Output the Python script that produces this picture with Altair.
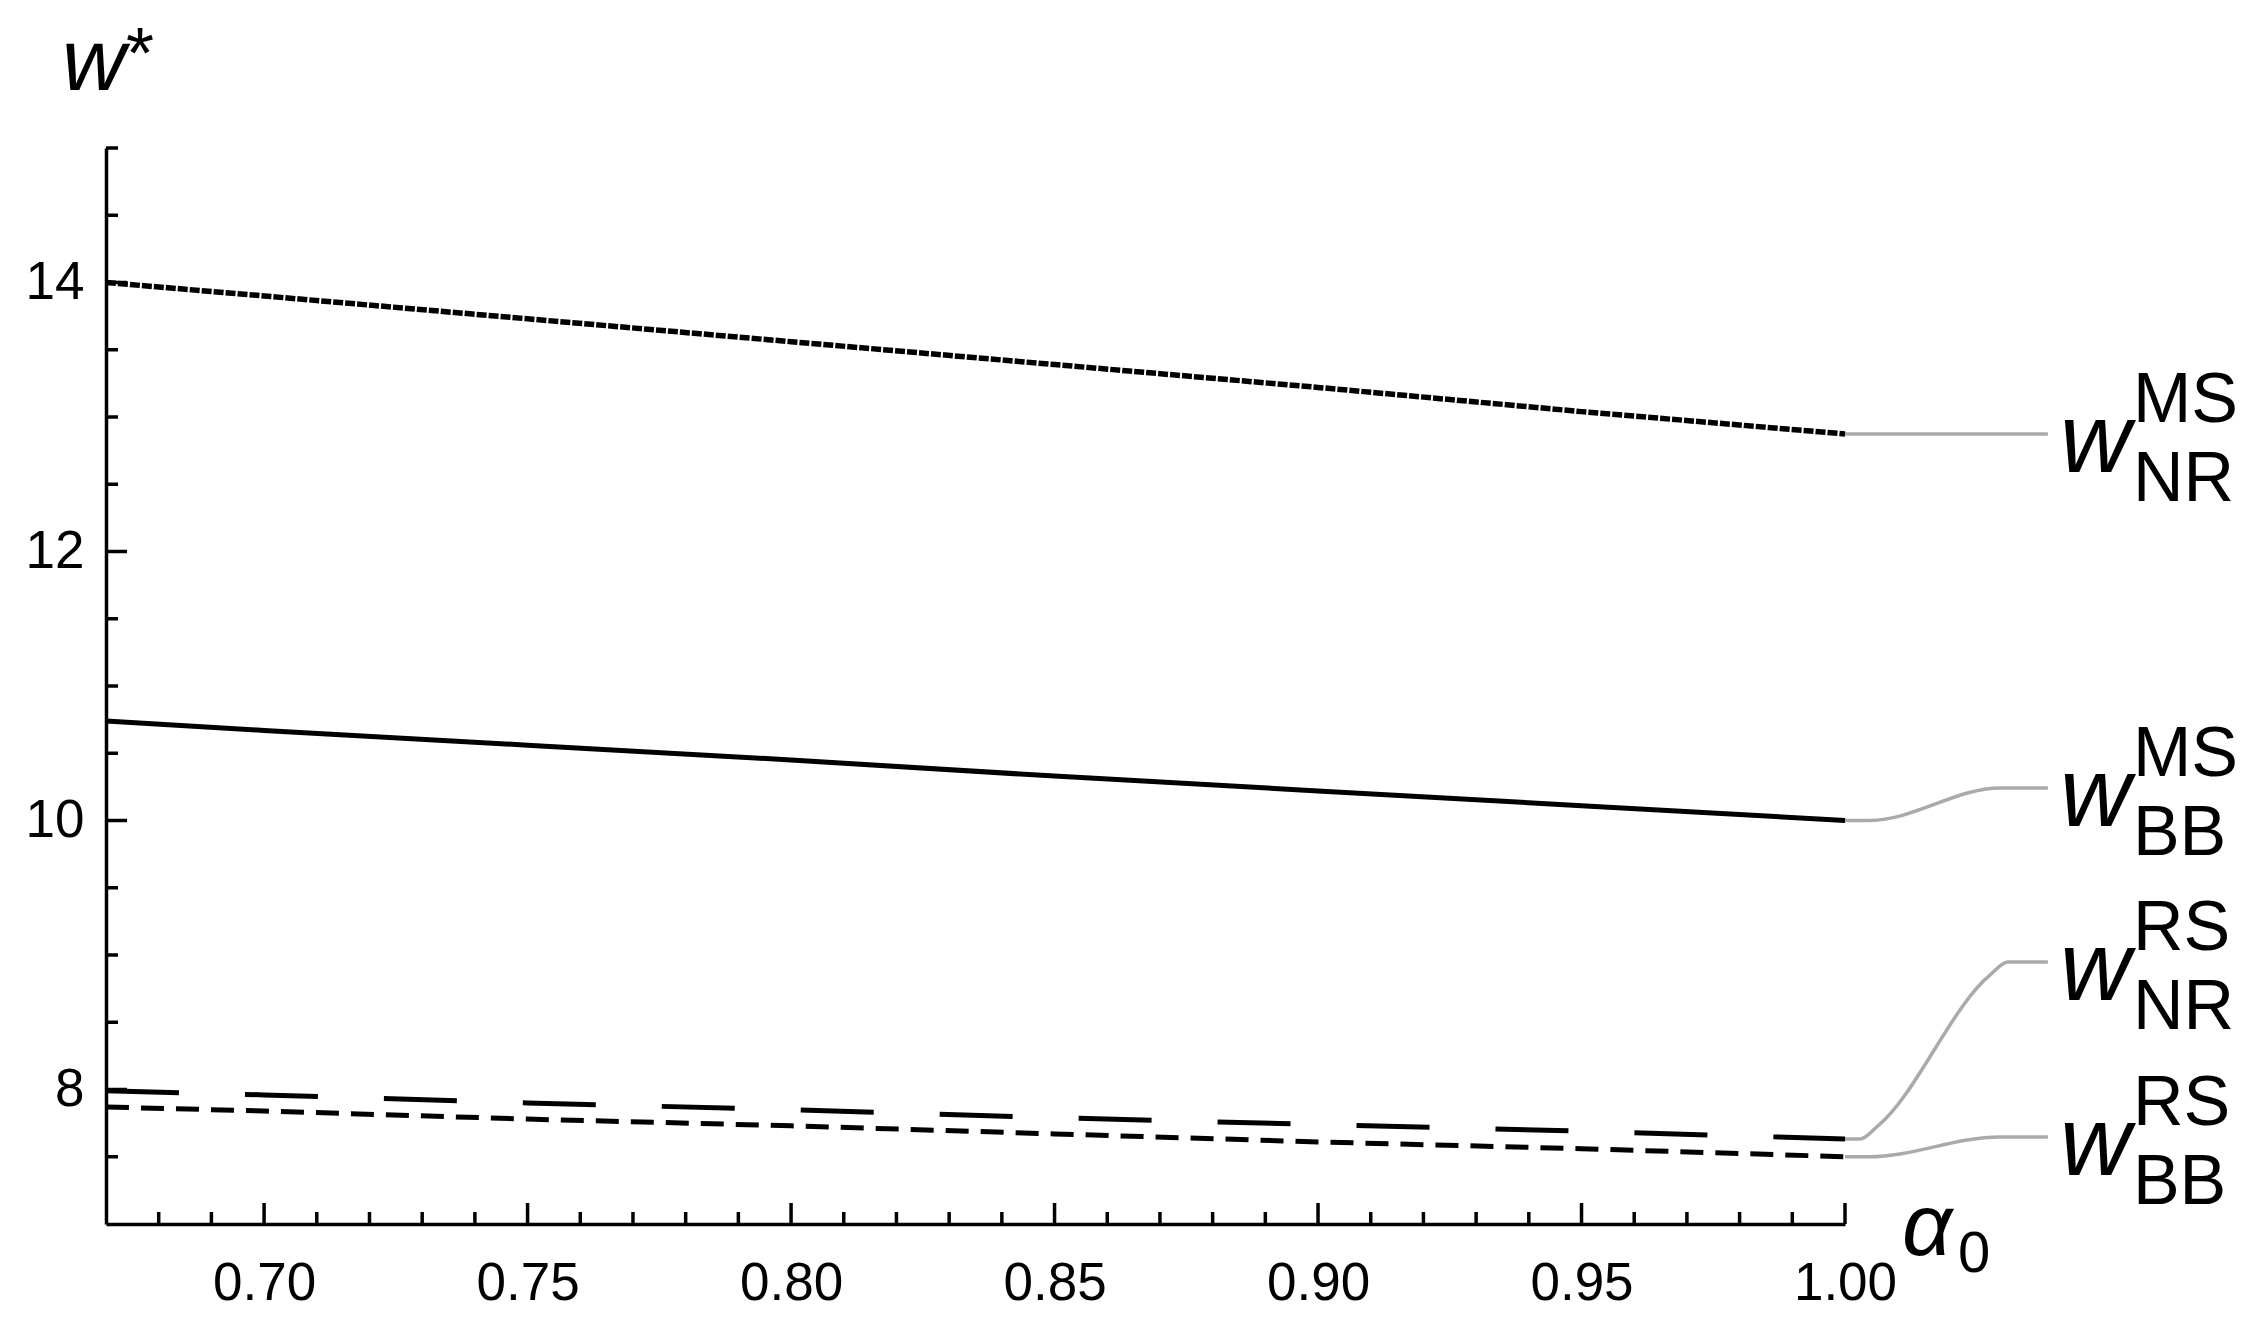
import altair as alt
import pandas as pd

# ---------------- data ----------------
alpha = [0.67, 0.70, 0.75, 0.80, 0.85, 0.90, 0.95, 1.00]
w_ms_nr = [14.00, 13.90, 13.73, 13.56, 13.39, 13.22, 13.04, 12.874]
w_ms_bb = [10.74, 10.67, 10.56, 10.45, 10.33, 10.22, 10.11, 10.00]
w_rs_nr = [7.99, 7.96, 7.90, 7.85, 7.79, 7.74, 7.69, 7.632]
w_rs_bb = [7.87, 7.84, 7.78, 7.73, 7.67, 7.61, 7.56, 7.50]

x_major = [0.70, 0.75, 0.80, 0.85, 0.90, 0.95, 1.00]
x_minor = [0.68, 0.69, 0.71, 0.72, 0.73, 0.74, 0.76, 0.77, 0.78, 0.79,
           0.81, 0.82, 0.83, 0.84, 0.86, 0.87, 0.88, 0.89, 0.91, 0.92,
           0.93, 0.94, 0.96, 0.97, 0.98, 0.99]
y_major = [8, 10, 12, 14]
y_minor = [7.5, 8.5, 9, 9.5, 10.5, 11, 11.5, 12.5, 13, 13.5, 14.5, 15]

label_sup = ["MS", "MS", "RS", "RS"]
label_sub = ["NR", "BB", "NR", "BB"]
label_y = [12.874, 10.242, 8.948, 7.647]
label_x = [1.0385, 1.0385, 1.0385, 1.0385]

lead_ms_nr_x = [1.0, 1.0385]
lead_ms_nr_y = [12.874, 12.874]
lead_ms_bb_x = [1.0, 1.0047, 1.0294, 1.0385]
lead_ms_bb_y = [10.0, 10.0, 10.242, 10.242]
lead_rs_nr_x = [1.0, 1.00283, 1.00624, 1.0275, 1.03091, 1.0385]
lead_rs_nr_y = [7.632, 7.632, 7.729, 8.851, 8.948, 8.948]
lead_rs_bb_x = [1.0, 1.0045, 1.0294, 1.0385]
lead_rs_bb_y = [7.50, 7.50, 7.647, 7.647]

FONT = "Liberation Sans"
W, H = 1739, 1076

xs = alt.Scale(domain=[0.67, 1.0], nice=False, zero=False)
ys = alt.Scale(domain=[7, 15], nice=False, zero=False)
xaxis = alt.Axis(values=x_major, format=".2f", title=None, ticks=False, tickSize=0,
                 grid=False, domainColor="black", domainWidth=3.5,
                 labelFont=FONT, labelFontSize=53, labelColor="black",
                 labelPadding=33, labelFlush=False, labelOverlap=False)
yaxis = alt.Axis(values=y_major, format="d", title=None, ticks=False, tickSize=0,
                 grid=False, domainColor="black", domainWidth=3.5,
                 labelFont=FONT, labelFontSize=53, labelColor="black",
                 labelPadding=22, labelOverlap=False)
X = alt.X("x:Q", scale=xs, axis=xaxis)
Y = alt.Y("y:Q", scale=ys, axis=yaxis)


def series(vals):
    return pd.DataFrame({"x": alpha, "y": vals})


def pts(xv, yv):
    return pd.DataFrame({"x": xv, "y": yv})


layers = []

# leader lines (gray)
for lx, ly in [(lead_ms_nr_x, lead_ms_nr_y), (lead_ms_bb_x, lead_ms_bb_y),
               (lead_rs_nr_x, lead_rs_nr_y), (lead_rs_bb_x, lead_rs_bb_y)]:
    layers.append(alt.Chart(pts(lx, ly)).mark_line(
        color="#aaaaaa", strokeWidth=3.5, interpolate="monotone", clip=False
    ).encode(x=X, y=Y))

# main series
layers.append(alt.Chart(series(w_ms_nr)).mark_line(
    color="black", strokeWidth=5.5, strokeDash=[10, 2]).encode(x=X, y=Y))
layers.append(alt.Chart(series(w_ms_bb)).mark_line(
    color="black", strokeWidth=5).encode(x=X, y=Y))
layers.append(alt.Chart(series(w_rs_nr)).mark_line(
    color="black", strokeWidth=5, strokeDash=[73, 66]).encode(x=X, y=Y))
layers.append(alt.Chart(series(w_rs_bb)).mark_line(
    color="black", strokeWidth=5, strokeDash=[23, 12]).encode(x=X, y=Y))

# inward ticks
layers.append(alt.Chart(pd.DataFrame({"x": x_major})).mark_rule(
    color="black", strokeWidth=3.5).encode(x=X, y=alt.value(H), y2=alt.value(H - 21)))
layers.append(alt.Chart(pd.DataFrame({"x": x_minor})).mark_rule(
    color="black", strokeWidth=3.5).encode(x=X, y=alt.value(H), y2=alt.value(H - 12)))
layers.append(alt.Chart(pd.DataFrame({"y": y_major})).mark_rule(
    color="black", strokeWidth=3.5).encode(y=Y, x=alt.value(0), x2=alt.value(21)))
layers.append(alt.Chart(pd.DataFrame({"y": y_minor})).mark_rule(
    color="black", strokeWidth=3.5).encode(y=Y, x=alt.value(0), x2=alt.value(12)))

# series labels
lab = pd.DataFrame({"x": label_x, "y": label_y, "sup": label_sup, "sub": label_sub})
layers.append(alt.Chart(lab).mark_text(
    text="w", font=FONT, fontStyle="italic", fontSize=98, align="left",
    baseline="alphabetic", dx=12, dy=38, color="black").encode(x=X, y=Y))
layers.append(alt.Chart(lab).mark_text(
    font=FONT, fontSize=70, align="left", baseline="alphabetic",
    dx=85, dy=-12, color="black").encode(x=X, y=Y, text="sup:N"))
layers.append(alt.Chart(lab).mark_text(
    font=FONT, fontSize=70, align="left", baseline="alphabetic",
    dx=85, dy=67, color="black").encode(x=X, y=Y, text="sub:N"))

# axis titles
ytitle = pd.DataFrame({"x": [0.67], "y": [15]})
layers.append(alt.Chart(ytitle).mark_text(
    text="w", font=FONT, fontStyle="italic", fontSize=88, align="left",
    baseline="alphabetic", dx=-44, dy=-58, color="black").encode(x=X, y=Y))
layers.append(alt.Chart(ytitle).mark_text(
    text="*", font=FONT, fontSize=72, align="left",
    baseline="alphabetic", dx=20, dy=-70, color="black").encode(x=X, y=Y))
xtitle = pd.DataFrame({"x": [1.0], "y": [7]})
layers.append(alt.Chart(xtitle).mark_text(
    text="α", font=FONT, fontStyle="italic", fontSize=88, align="left",
    baseline="alphabetic", dx=57, dy=31, color="black").encode(x=X, y=Y))
layers.append(alt.Chart(xtitle).mark_text(
    text="0", font=FONT, fontSize=58, align="left",
    baseline="alphabetic", dx=113, dy=48, color="black").encode(x=X, y=Y))

chart = alt.layer(*layers).properties(
    width=W, height=H,
    padding={"left": 98, "top": 140, "right": 400, "bottom": 100},
    autosize=alt.AutoSizeParams(type="none"),
    background="white",
).configure_view(stroke=None)

chart.save("out.html", embed_options={"renderer": "svg", "actions": False})
